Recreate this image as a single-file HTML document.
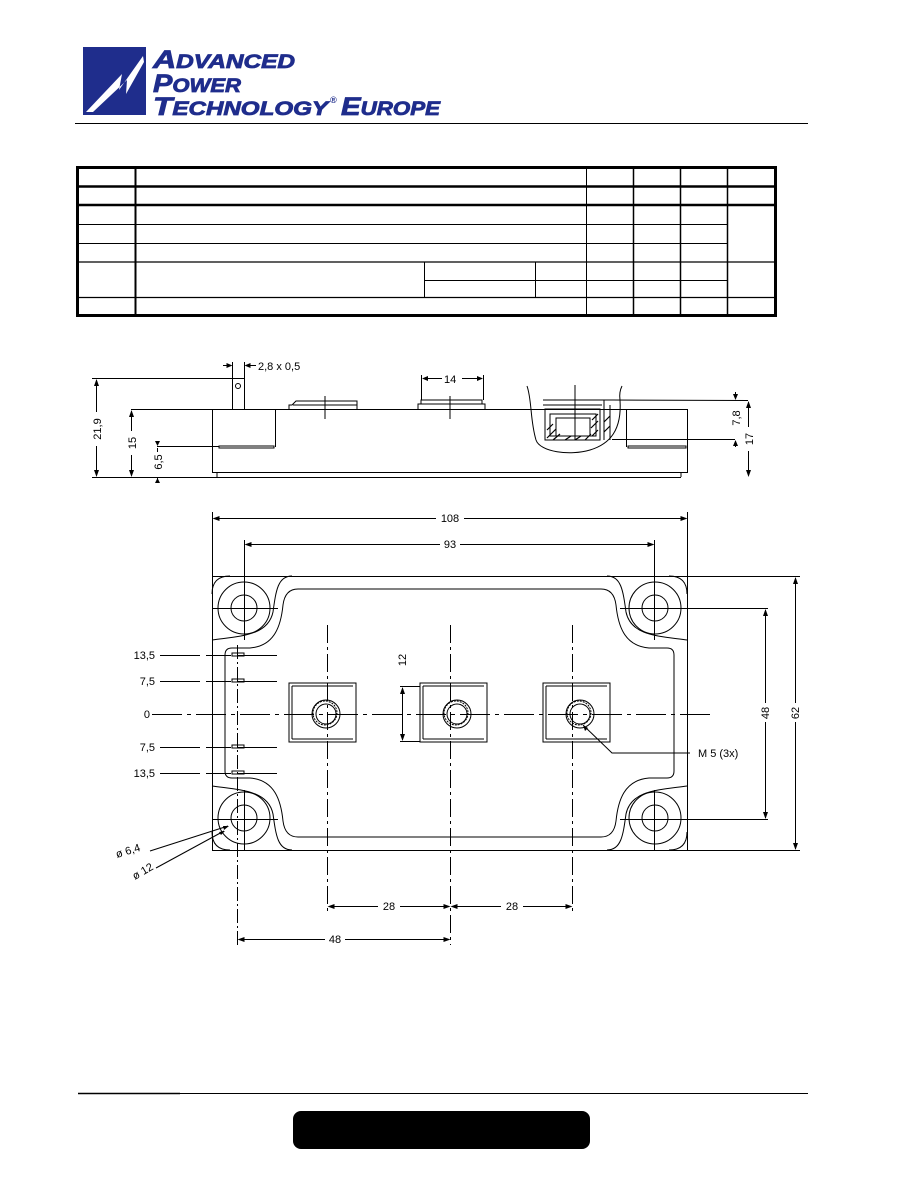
<!DOCTYPE html>
<html><head><meta charset="utf-8"><style>
html,body{margin:0;padding:0;background:#fff;}
svg{display:block;}
text{font-family:"Liberation Sans",sans-serif;fill:#000;}
</style></head><body>
<svg width="918" height="1188" viewBox="0 0 918 1188" xmlns="http://www.w3.org/2000/svg">
<!-- Logo -->
<rect x="83" y="47" width="63" height="68" fill="#1f2d8c"/>
<path d="M86,112 L122,74 L119,90 L143,56 L144,62 L126,94 L127,80 L93,112 Z" fill="#fff"/>
<g font-weight="bold" font-style="italic">
<text x="153" y="68" font-size="25" textLength="142" lengthAdjust="spacingAndGlyphs" style="fill:#1f2d8c;stroke:#1f2d8c;stroke-width:0.8">A<tspan font-size="19">DVANCED</tspan></text>
<text x="153" y="92" font-size="25" textLength="88" lengthAdjust="spacingAndGlyphs" style="fill:#1f2d8c;stroke:#1f2d8c;stroke-width:0.8">P<tspan font-size="19">OWER</tspan></text>
<text x="153" y="115" font-size="25" textLength="175" lengthAdjust="spacingAndGlyphs" style="fill:#1f2d8c;stroke:#1f2d8c;stroke-width:0.8">T<tspan font-size="19">ECHNOLOGY</tspan></text>
<text x="330" y="103" font-size="9" style="fill:#1f2d8c">®</text>
<text x="341" y="115" font-size="25" textLength="99" lengthAdjust="spacingAndGlyphs" style="fill:#1f2d8c;stroke:#1f2d8c;stroke-width:0.8">E<tspan font-size="19">UROPE</tspan></text>
</g>
<line x1="75" y1="123.5" x2="808" y2="123.5" stroke="#000" stroke-width="1"/>

<!-- Table -->
<g stroke="#000" fill="none">
<rect x="77.5" y="167.5" width="698" height="148" stroke-width="3"/>
<line x1="76" y1="186.5" x2="777" y2="186.5" stroke-width="2.5"/>
<line x1="76" y1="205" x2="777" y2="205" stroke-width="2.5"/>
<line x1="76" y1="224.5" x2="727" y2="224.5"/>
<line x1="76" y1="243.5" x2="727" y2="243.5"/>
<line x1="76" y1="262" x2="777" y2="262" stroke-width="1.3"/>
<line x1="424" y1="280.5" x2="727" y2="280.5"/>
<line x1="76" y1="297.5" x2="777" y2="297.5" stroke-width="1.3"/>
<line x1="135.5" y1="166" x2="135.5" y2="316" stroke-width="2"/>
<line x1="586.5" y1="166" x2="586.5" y2="316"/>
<line x1="633.5" y1="166" x2="633.5" y2="316" stroke-width="1.5"/>
<line x1="680.5" y1="166" x2="680.5" y2="316" stroke-width="1.5"/>
<line x1="727.5" y1="166" x2="727.5" y2="316" stroke-width="1.5"/>
<line x1="424.5" y1="262" x2="424.5" y2="297"/>
<line x1="535.5" y1="262" x2="535.5" y2="297"/>
</g>

<!-- Side view -->
<g stroke="#000" fill="none" stroke-width="1">
<line x1="131" y1="409.5" x2="688" y2="409.5"/>
<line x1="212.5" y1="409" x2="212.5" y2="472"/>
<line x1="687.5" y1="409" x2="687.5" y2="472"/>
<line x1="212" y1="472.5" x2="688" y2="472.5"/>
<line x1="217" y1="477.5" x2="681" y2="477.5"/>
<line x1="217" y1="472" x2="217" y2="477"/>
<line x1="681" y1="472" x2="681" y2="477"/>
<line x1="92" y1="477.5" x2="217" y2="477.5"/>
<line x1="275.5" y1="409" x2="275.5" y2="447"/>
<rect x="219" y="446" width="55" height="2"/>
<line x1="157" y1="446.5" x2="219" y2="446.5"/>
<line x1="626.5" y1="409" x2="626.5" y2="447"/>
<rect x="628" y="446" width="58" height="2"/>
<rect x="232.5" y="378.5" width="12" height="31"/>
<circle cx="238" cy="386" r="2.5"/>
<line x1="92" y1="378.5" x2="232" y2="378.5"/>
<line x1="232.5" y1="362" x2="232.5" y2="378"/>
<line x1="244.5" y1="362" x2="244.5" y2="378"/>
<path d="M289,409 V405 H292 L296,401 H357 V409"/>
<path d="M293,405 H357"/>
<line x1="325" y1="396" x2="325" y2="419"/>
<path d="M418,409 V404 H485 V409 M421,404 V400 H482 V404"/>
<line x1="450" y1="396" x2="450" y2="419"/>
<line x1="421.5" y1="375" x2="421.5" y2="400"/>
<line x1="483.5" y1="375" x2="483.5" y2="400"/>
<path d="M543,400 H612 M543,405 H602 M545,409 H600 V440 H545 Z M550,414 H596 V436 H550 Z M556,418 H590 V436 H556 Z M604,400 V440 M610,405 V440" />
<g stroke-width="1.2"><path d="M547,430 L553,424 M547,438 L556,429 M553,440 L560,434 M565,440 L571,436 M575,440 L581,436 M585,440 L591,434 M592,436 L598,430 M591,428 L598,421 M592,420 L598,414 M604,422 L610,416 M604,432 L610,426"/></g>
<line x1="575" y1="385" x2="575" y2="440"/>
<path d="M527,386 C532,400 530,420 536,440 C540,452 570,456 590,450 C610,444 622,430 620,400 C619,393 621,388 622,386"/>
<line x1="612" y1="400" x2="748" y2="400.5"/>
<line x1="612" y1="439.5" x2="735" y2="439.5"/>
<line x1="96.5" y1="380" x2="96.5" y2="412"/>
<line x1="96.5" y1="446" x2="96.5" y2="475"/>
<line x1="131.5" y1="411" x2="131.5" y2="431"/>
<line x1="131.5" y1="455" x2="131.5" y2="475"/>
<line x1="157.5" y1="448" x2="157.5" y2="452"/>
<line x1="157.5" y1="478" x2="157.5" y2="482"/>
<line x1="748.5" y1="402" x2="748.5" y2="427"/>
<line x1="748.5" y1="451" x2="748.5" y2="475"/>
<line x1="735.5" y1="392" x2="735.5" y2="398"/>
<line x1="735.5" y1="441" x2="735.5" y2="447"/>
<line x1="248" y1="365.5" x2="256" y2="365.5"/>
<line x1="223" y1="365.5" x2="229" y2="365.5"/>
<line x1="424" y1="378.5" x2="442" y2="378.5"/>
<line x1="462" y1="378.5" x2="481" y2="378.5"/>
</g>
<g fill="#000">
<path d="M96.5,379 l-2.5,7 h5z M96.5,477 l-2.5,-7 h5z M131.5,410 l-2.5,7 h5z M131.5,477 l-2.5,-7 h5z M157.5,446 l-2.5,-5 h5z M157.5,478 l-2.5,5 h5z M748.5,401 l-2.5,7 h5z M748.5,477 l-2.5,-7 h5z M735.5,400 l-2.5,-6 h5z M735.5,440 l-2.5,6 h5z M244.5,365.5 l6,-2.5 v5z M232.5,365.5 l-6,-2.5 v5z M422,378.5 l6,-2.5 v5z M483,378.5 l-6,-2.5 v5z"/>
</g>
<g font-size="11">
<text x="258" y="370">2,8 x 0,5</text>
<text x="444" y="383">14</text>
<text transform="translate(101,429) rotate(-90)" text-anchor="middle">21,9</text>
<text transform="translate(136,443) rotate(-90)" text-anchor="middle">15</text>
<text transform="translate(162,462) rotate(-90)" text-anchor="middle">6,5</text>
<text transform="translate(753,439) rotate(-90)" text-anchor="middle">17</text>
<text transform="translate(740,418) rotate(-90)" text-anchor="middle">7,8</text>
</g>

<!-- Top view -->
<g stroke="#000" fill="none" stroke-width="1">
<line x1="212.5" y1="512" x2="212.5" y2="850"/>
<line x1="687.5" y1="512" x2="687.5" y2="850"/>
<line x1="212" y1="576.5" x2="800" y2="576.5"/>
<line x1="212" y1="850.5" x2="800" y2="850.5"/>
<g id="q">
<path d="M212,594 Q212,576 230,576"/>
<path d="M212,640 C240,636 268,636 273,612 C276,590 278,576 292,576"/>
<path d="M225,713 L225,655 Q225,648 232,648 L250,648 C275,646 281,625 283,605 Q285,589 298,589 L449.5,589"/>
<circle cx="244" cy="608" r="26"/>
<circle cx="244" cy="608" r="13"/>
</g>
<use href="#q" transform="matrix(-1,0,0,1,899,0)"/>
<use href="#q" transform="matrix(1,0,0,-1,0,1426)"/>
<use href="#q" transform="matrix(-1,0,0,-1,899,1426)"/>
<line x1="244.5" y1="540" x2="244.5" y2="640"/>
<line x1="244.5" y1="790" x2="244.5" y2="850"/>
<line x1="654.5" y1="540" x2="654.5" y2="640"/>
<line x1="654.5" y1="790" x2="654.5" y2="850"/>
<line x1="212" y1="608.5" x2="278" y2="608.5"/>
<line x1="212" y1="819.5" x2="278" y2="819.5"/>
<line x1="620" y1="608.5" x2="768" y2="608.5"/>
<line x1="620" y1="819.5" x2="768" y2="819.5"/>
<line x1="237.5" y1="645" x2="237.5" y2="945" stroke-dasharray="14,3,2,3"/>
<rect x="232" y="653" width="12" height="3"/>
<rect x="232" y="679" width="12" height="3"/>
<rect x="232" y="745" width="12" height="3"/>
<rect x="232" y="771" width="12" height="3"/>
<line x1="160" y1="655.5" x2="280" y2="655.5" stroke-dasharray="40,6,25,6"/>
<line x1="160" y1="681.5" x2="280" y2="681.5" stroke-dasharray="40,6,25,6"/>
<line x1="160" y1="747.5" x2="280" y2="747.5" stroke-dasharray="40,6,25,6"/>
<line x1="160" y1="773.5" x2="280" y2="773.5" stroke-dasharray="40,6,25,6"/>
<line x1="152" y1="714.5" x2="715" y2="714.5" stroke-dasharray="30,5,4,5"/>
<g id="t">
<path d="M289,683 H356 V742 H289 Z"/>
<path d="M292,686 H353 M292,739 H353 M292,686 V739"/>
<circle cx="326" cy="714" r="14"/>
<circle cx="326" cy="714" r="10"/>
<circle cx="325" cy="713" r="12" stroke-dasharray="2,1"/>
</g>
<use href="#t" transform="translate(131,0)"/>
<use href="#t" transform="translate(254,0)"/>
<line x1="327.5" y1="625" x2="327.5" y2="912" stroke-dasharray="18,4,3,4"/>
<line x1="450.5" y1="625" x2="450.5" y2="945" stroke-dasharray="18,4,3,4"/>
<line x1="572.5" y1="625" x2="572.5" y2="912" stroke-dasharray="18,4,3,4"/>
<line x1="400" y1="686.5" x2="420" y2="686.5"/>
<line x1="400" y1="741.5" x2="420" y2="741.5"/>
<line x1="402.5" y1="688" x2="402.5" y2="740"/>
<line x1="214" y1="518.5" x2="436" y2="518.5"/>
<line x1="464" y1="518.5" x2="686" y2="518.5"/>
<line x1="246" y1="544.5" x2="440" y2="544.5"/>
<line x1="460" y1="544.5" x2="653" y2="544.5"/>
<line x1="795.5" y1="578" x2="795.5" y2="703"/>
<line x1="795.5" y1="722" x2="795.5" y2="849"/>
<line x1="765.5" y1="610" x2="765.5" y2="703"/>
<line x1="765.5" y1="722" x2="765.5" y2="818"/>
<line x1="329" y1="906.5" x2="378" y2="906.5"/>
<line x1="400" y1="906.5" x2="449" y2="906.5"/>
<line x1="452" y1="906.5" x2="501" y2="906.5"/>
<line x1="523" y1="906.5" x2="571" y2="906.5"/>
<line x1="239" y1="939.5" x2="325" y2="939.5"/>
<line x1="345" y1="939.5" x2="449" y2="939.5"/>
<path d="M583,725 L612,753 L690,753"/>
<path d="M150,851 L228,826"/>
<path d="M156,868 L224,831"/>
</g>
<g fill="#000">
<path d="M212.5,518.5 l7,-2.5 v5z M687.5,518.5 l-7,-2.5 v5z M244.5,544.5 l7,-2.5 v5z M654.5,544.5 l-7,-2.5 v5z M795.5,577 l-2.5,7 h5z M795.5,850 l-2.5,-7 h5z M765.5,609 l-2.5,7 h5z M765.5,819 l-2.5,-7 h5z M327.5,906.5 l7,-2.5 v5z M450.5,906.5 l-7,-2.5 v5z M450.5,906.5 l7,-2.5 v5z M572.5,906.5 l-7,-2.5 v5z M237.5,939.5 l7,-2.5 v5z M450.5,939.5 l-7,-2.5 v5z M402.5,687 l-2.5,7 h5z M402.5,741 l-2.5,-7 h5z M583,725 l2,6 l3,-3z M229,826 l-6,0 l1,4z M225,831 l-6,1 l2,3z"/>
</g>
<g font-size="11">
<text x="450" y="522" text-anchor="middle">108</text>
<text x="450" y="548" text-anchor="middle">93</text>
<text transform="translate(799,713) rotate(-90)" text-anchor="middle">62</text>
<text transform="translate(769,713) rotate(-90)" text-anchor="middle">48</text>
<text transform="translate(406,660) rotate(-90)" text-anchor="middle">12</text>
<text x="389" y="910" text-anchor="middle">28</text>
<text x="512" y="910" text-anchor="middle">28</text>
<text x="335" y="943" text-anchor="middle">48</text>
<text x="155" y="659" text-anchor="end">13,5</text>
<text x="155" y="685" text-anchor="end">7,5</text>
<text x="150" y="718" text-anchor="end">0</text>
<text x="155" y="751" text-anchor="end">7,5</text>
<text x="155" y="777" text-anchor="end">13,5</text>
<text x="698" y="757">M 5 (3x)</text>
<text transform="translate(117,858) rotate(-17)">ø 6,4</text>
<text transform="translate(135,880) rotate(-30)">ø 12</text>
</g>

<!-- Footer -->
<line x1="78" y1="1093.5" x2="808" y2="1093.5" stroke="#000" stroke-width="1"/>
<line x1="78" y1="1093.5" x2="180" y2="1093.5" stroke="#000" stroke-width="1.5"/>
<rect x="293" y="1111" width="297" height="38" rx="8" fill="#000"/>
</svg>
</body></html>
